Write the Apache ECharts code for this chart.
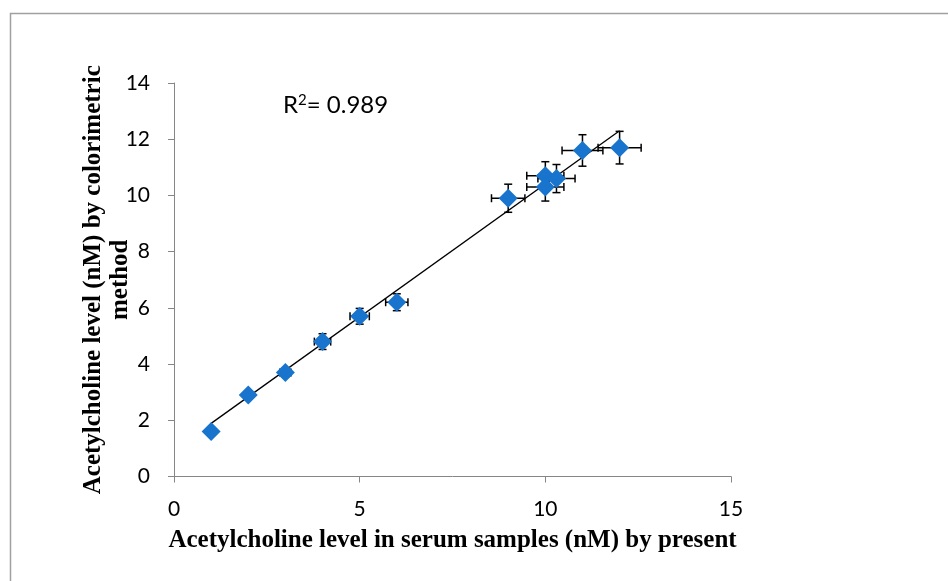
<!DOCTYPE html>
<html>
<head>
<meta charset="utf-8">
<script src="https://cdn.jsdelivr.net/npm/echarts@6/dist/echarts.min.js"></script>
<style>html,body{margin:0;padding:0;background:#fff}#c{width:948px;height:581px}</style>
</head>
<body>
<div id="c"></div>
<script>
// Data
var presentMethod = [1, 2, 3, 4, 5, 6, 9, 10, 10, 10.3, 11, 12];
var colorimetric  = [1.6, 2.9, 3.7, 4.8, 5.7, 6.2, 9.9, 10.7, 10.3, 10.6, 11.6, 11.7];
var xError = [0.1, 0.1, 0.15, 0.22, 0.26, 0.3, 0.45, 0.5, 0.5, 0.5, 0.55, 0.58];
var yError = [0.1, 0.1, 0.15, 0.28, 0.28, 0.3, 0.5, 0.5, 0.5, 0.5, 0.56, 0.58];
var trendX = [1, 12];
var trendY = [1.89, 12.3];
var xTicks = [0, 5, 10, 15];
var yTicks = [0, 2, 4, 6, 8, 10, 12, 14];
var r2Text = '0.989';

var points = presentMethod.map(function (x, i) { return [x, colorimetric[i]]; });
var errData = presentMethod.map(function (x, i) { return [x, colorimetric[i], xError[i], yError[i]]; });
var trend = trendX.map(function (x, i) { return [x, trendY[i]]; });

var chart = echarts.init(document.getElementById('c'));
var tickFont = 'Lato, "Open Sans", sans-serif';
var titleFont = '"Liberation Serif", "Times New Roman", serif';

chart.setOption({
  animation: false,
  backgroundColor: '#fff',
  grid: { left: 174, top: 83, right: 217, bottom: 104.5, containLabel: false },
  xAxis: {
    type: 'value', min: xTicks[0], max: xTicks[xTicks.length - 1], interval: 5,
    splitLine: { show: false },
    axisLine: { show: true, onZero: false, lineStyle: { color: '#868686', width: 1 } },
    axisTick: { show: true, length: 6, lineStyle: { color: '#868686' } },
    axisLabel: { color: '#000', fontFamily: tickFont, fontSize: 21, margin: 22 },
    name: 'Acetylcholine level in serum samples (nM) by present',
    nameLocation: 'middle', nameGap: 52, nameMoveOverlap: false,
    nameTextStyle: { color: '#000', fontFamily: titleFont, fontWeight: 'bold', fontSize: 25 }
  },
  yAxis: {
    type: 'value', min: yTicks[0], max: yTicks[yTicks.length - 1], interval: 2,
    splitLine: { show: false },
    axisLine: { show: true, onZero: false, lineStyle: { color: '#868686', width: 1 } },
    axisTick: { show: true, length: 6, lineStyle: { color: '#868686' } },
    axisLabel: { color: '#000', fontFamily: tickFont, fontSize: 21, margin: 24 },
    name: 'Acetylcholine level (nM) by colorimetric\nmethod',
    nameLocation: 'middle', nameRotate: 90, nameGap: 67, nameMoveOverlap: false,
    nameTextStyle: { color: '#000', fontFamily: titleFont, fontWeight: 'bold', fontSize: 25, lineHeight: 27, align: 'center', verticalAlign: 'middle' }
  },
  graphic: [
    { type: 'polyline', silent: true, z: 0,
      shape: { points: [[948, 13.5], [10.5, 13.5], [10.5, 581]] },
      style: { stroke: '#a0a0a0', lineWidth: 1.5, fill: null } },
    { type: 'text', left: 283, top: 93, z: 10,
      style: {
        text: 'R{sup|2}= ' + r2Text,
        fontFamily: tickFont, fontSize: 24, fill: '#000',
        rich: { sup: { fontSize: 15, verticalAlign: 'top', padding: [0, 0, 10, 0], fontFamily: tickFont, fill: '#000' } }
      } }
  ],
  series: [
    {
      type: 'line', data: trend, showSymbol: false, symbol: 'none', silent: true, z: 2,
      lineStyle: { color: '#000', width: 1.3 }
    },
    {
      type: 'custom', z: 3, silent: true,
      data: errData,
      renderItem: function (params, api) {
        var x = api.value(0), y = api.value(1), xe = api.value(2), ye = api.value(3);
        var c = api.coord([x, y]);
        var l = api.coord([x - xe, y]), r = api.coord([x + xe, y]);
        var t = api.coord([x, y + ye]), b = api.coord([x, y - ye]);
        var cap = 4;
        var st = { stroke: '#000', lineWidth: 1.5 };
        return {
          type: 'group',
          children: [
            { type: 'line', shape: { x1: l[0], y1: c[1], x2: r[0], y2: c[1] }, style: st },
            { type: 'line', shape: { x1: l[0], y1: c[1] - cap, x2: l[0], y2: c[1] + cap }, style: st },
            { type: 'line', shape: { x1: r[0], y1: c[1] - cap, x2: r[0], y2: c[1] + cap }, style: st },
            { type: 'line', shape: { x1: c[0], y1: t[1], x2: c[0], y2: b[1] }, style: st },
            { type: 'line', shape: { x1: c[0] - cap, y1: t[1], x2: c[0] + cap, y2: t[1] }, style: st },
            { type: 'line', shape: { x1: c[0] - cap, y1: b[1], x2: c[0] + cap, y2: b[1] }, style: st }
          ]
        };
      }
    },
    {
      type: 'scatter', data: points, symbol: 'diamond', symbolSize: 19, z: 4,
      itemStyle: { color: '#1874cd', opacity: 1 }
    }
  ]
});
</script>
</body>
</html>
